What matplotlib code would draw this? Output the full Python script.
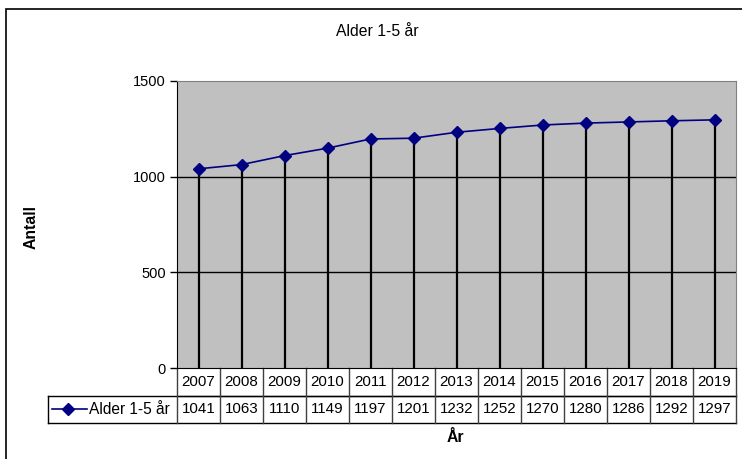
import matplotlib.pyplot as plt
import matplotlib.transforms as mtransforms
from matplotlib.lines import Line2D
from matplotlib.patches import Rectangle

plt.rcParams['font.family'] = ['Liberation Sans', 'DejaVu Sans']

years = ['2007', '2008', '2009', '2010', '2011', '2012', '2013',
         '2014', '2015', '2016', '2017', '2018', '2019']
values = [1041, 1063, 1110, 1149, 1197, 1201, 1232, 1252, 1270, 1280, 1286, 1292, 1297]
series_name = 'Alder 1-5 år'

W, H = 742, 459
fig = plt.figure(figsize=(W / 100, H / 100), dpi=100)

# outer chart border (cut off at right/bottom like the original)
fig.patches.append(Rectangle((6 / W, -0.05), 1.2, 1 - 9 / H + 0.05, transform=fig.transFigure,
                             fill=False, edgecolor='black', linewidth=1.2))

ax = fig.add_axes([177 / W, 1 - 368 / H, 559 / W, 287 / H])
ax.set_facecolor('#c0c0c0')
x = list(range(len(years)))
ax.set_xlim(-0.5, len(years) - 0.5)
ax.set_ylim(0, 1500)
ax.set_yticks([0, 500, 1000, 1500])
ax.tick_params(axis='y', direction='out', length=5, width=1, labelsize=10.5, pad=3)
ax.set_xticks([])
for s in ['top', 'right']:
    ax.spines[s].set_color('#808080')
for s in ['left', 'bottom']:
    ax.spines[s].set_color('black')

# gridlines
for g in [500, 1000]:
    ax.axhline(g, color='black', lw=1, zorder=1)

# drop lines
ax.vlines(x, 0, values, color='black', lw=1.6, zorder=2)
ax.plot(x, values, color='#000080', lw=1.2, marker='D', markersize=6,
        markerfacecolor='#000080', markeredgecolor='#000080', zorder=3)

# data table below the axes
tr = mtransforms.blended_transform_factory(ax.transData, ax.transAxes)
rh = 27.5 / 287
row1_bot = -rh
row2_bot = -2 * rh
leg_left = -0.5 - (177 - 48) / 43.0
fs = 10.9

def hline(x0, x1, y, **kw):
    ax.add_line(Line2D([x0, x1], [y, y], transform=tr, clip_on=False, **kw))

def vline(xx, y0, y1, **kw):
    ax.add_line(Line2D([xx, xx], [y0, y1], transform=tr, clip_on=False, **kw))

hline(-0.5, len(years) - 0.5, row1_bot, color='#404040', lw=1)
hline(leg_left, len(years) - 0.5, row1_bot, color='black', lw=1)
hline(leg_left, len(years) - 0.5, row2_bot, color='black', lw=1)
vline(leg_left, row2_bot, row1_bot, color='black', lw=1)
for i in range(len(years) + 1):
    vline(i - 0.5, row2_bot, 0, color='#404040', lw=1)

for i, (yr, v) in enumerate(zip(years, values)):
    ax.text(i, -0.5 * rh, yr, transform=tr, ha='center', va='center', fontsize=fs)
    ax.text(i, -1.5 * rh, str(v), transform=tr, ha='center', va='center', fontsize=fs)

# legend key inside table
ax.add_line(Line2D([leg_left + 0.09, leg_left + 0.91], [-1.5 * rh] * 2, transform=tr,
                   clip_on=False, color='#000080', lw=1.2))
ax.add_line(Line2D([leg_left + 0.47], [-1.5 * rh], transform=tr, clip_on=False,
                   marker='D', markersize=6, color='#000080'))
ax.text(leg_left + 0.95, -1.5 * rh, series_name, transform=tr, ha='left', va='center',
        fontsize=11.2)

fig.text(377 / W, 1 - 31 / H, 'Alder 1-5 år', ha='center', va='center', fontsize=11.3)
fig.text(31 / W, 1 - 227 / H, 'Antall', ha='center', va='center', rotation=90,
         fontsize=11.3, fontweight='bold')
fig.text(455 / W, 1 - 437 / H, 'År', ha='center', va='center', fontsize=11.3, fontweight='bold')

fig.savefig('out.png', dpi=100)
